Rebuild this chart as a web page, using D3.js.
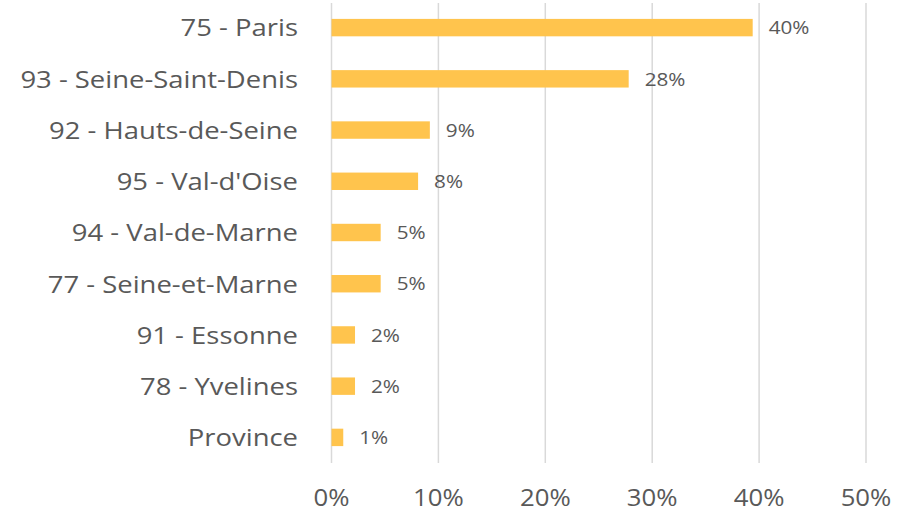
<!DOCTYPE html>
<html>
<head>
<meta charset="utf-8">
<script src="https://cdn.jsdelivr.net/npm/d3@7"></script>
<style>
  body { margin: 0; background: #fff; }
  text { font-family: "Open Sans", "Noto Sans", sans-serif; fill: #595959; }
</style>
</head>
<body>
<svg></svg>
<script>
let width = 910, height = 512;

// Data
const departements = ["75 - Paris", "93 - Seine-Saint-Denis", "92 - Hauts-de-Seine", "95 - Val-d'Oise",
    "94 - Val-de-Marne", "77 - Seine-et-Marne", "91 - Essonne", "78 - Yvelines", "Province"];
const parts = [0.394, 0.278, 0.092, 0.081, 0.046, 0.046, 0.022, 0.022, 0.011];
const partLabels = ["40%", "28%", "9%", "8%", "5%", "5%", "2%", "2%", "1%"];
const xTicks = [0, 0.1, 0.2, 0.3, 0.4, 0.5];

let rows = departements.map((d, i) => ({ name: d, value: parts[i], label: partLabels[i] }));

// the text in the original is a bit wider than Open Sans
const sx = 1.12;

let svg = d3.select("svg")
    .attr("width", width)
    .attr("height", height);

let x = d3.scaleLinear()
    .domain([0, 0.5])
    .range([331.5, 866]);

let y = d3.scaleBand()
    .domain(departements)
    .range([2, 463])
    .paddingInner(0.66)
    .paddingOuter(0.33);

// gridlines
svg.append("g")
    .selectAll("line")
    .data(xTicks)
    .enter()
    .append("line")
    .attr("x1", d => x(d))
    .attr("x2", d => x(d))
    .attr("y1", 3)
    .attr("y2", 463)
    .attr("stroke", "#d9d9d9")
    .attr("stroke-width", 1.5);

// x tick labels
svg.append("g")
    .selectAll("text")
    .data(xTicks)
    .enter()
    .append("text")
    .attr("transform", d => "translate(" + x(d) + ",505.5) scale(" + sx + ",1)")
    .attr("text-anchor", "middle")
    .style("font-size", "23px")
    .text(d => d3.format(".0%")(d));

// bars
svg.append("g")
    .selectAll("rect")
    .data(rows)
    .enter()
    .append("rect")
    .attr("x", x(0))
    .attr("y", d => y(d.name))
    .attr("width", d => x(d.value) - x(0))
    .attr("height", y.bandwidth())
    .attr("fill", "#ffc44d");

// category labels
svg.append("g")
    .selectAll("text")
    .data(rows)
    .enter()
    .append("text")
    .attr("transform", d => "translate(298," + (y(d.name) + y.bandwidth() / 2) + ") scale(" + sx + ",1)")
    .attr("dy", "0.36em")
    .attr("text-anchor", "end")
    .style("font-size", "24.5px")
    .text(d => d.name);

// value labels
svg.append("g")
    .selectAll("text")
    .data(rows)
    .enter()
    .append("text")
    .attr("transform", d => "translate(" + (x(d.value) + 16) + "," + (y(d.name) + y.bandwidth() / 2) + ") scale(" + sx + ",1)")
    .attr("dy", "0.36em")
    .style("font-size", "18.5px")
    .text(d => d.label);
</script>
</body>
</html>
